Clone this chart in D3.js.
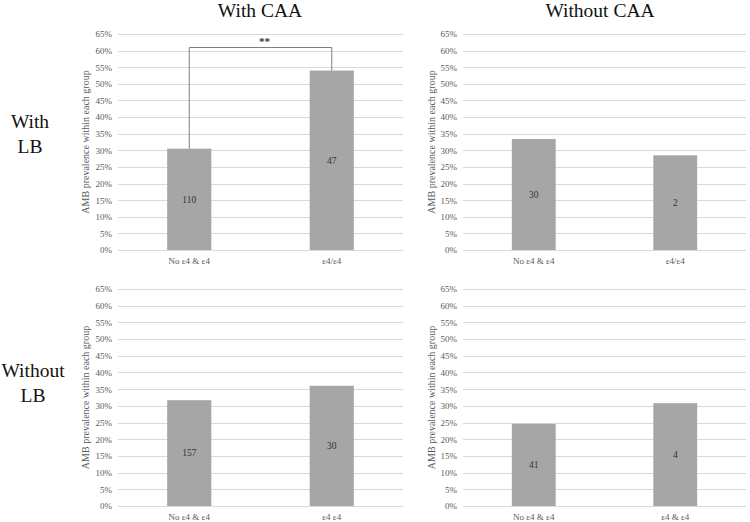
<!DOCTYPE html>
<html>
<head>
<meta charset="utf-8">
<script src="https://cdn.jsdelivr.net/npm/d3@7"></script>
<style>
  html, body { margin: 0; padding: 0; background: #fff; }
  svg { display: block; }
</style>
</head>
<body>
<svg id="chart" width="750" height="522" font-family="Liberation Serif"></svg>
<script>
// ---- data ----
const columnTitles = ["With CAA", "Without CAA"];
const rowTitles = [["With", "LB"], ["Without", "LB"]];
const yTickValues = [0, 5, 10, 15, 20, 25, 30, 35, 40, 45, 50, 55, 60, 65];
const yAxisTitle = "AMB prevalence within each group";

const catsWithCAAWithLB = ["No ε4 & ε4", "ε4/ε4"];
const valsWithCAAWithLB = [30.5, 54.0];
const nWithCAAWithLB = ["110", "47"];

const catsWithoutCAAWithLB = ["No ε4 & ε4", "ε4/ε4"];
const valsWithoutCAAWithLB = [33.4, 28.5];
const nWithoutCAAWithLB = ["30", "2"];

const catsWithCAAWithoutLB = ["No ε4 & ε4", "ε4 ε4"];
const valsWithCAAWithoutLB = [31.7, 36.0];
const nWithCAAWithoutLB = ["157", "30"];

const catsWithoutCAAWithoutLB = ["No ε4 & ε4", "ε4 & ε4"];
const valsWithoutCAAWithoutLB = [24.6, 30.8];
const nWithoutCAAWithoutLB = ["41", "4"];

const significance = { panel: 0, label: "**", level: 61 };

// ---- layout ----
const FONT = "Liberation Serif";
const panels = [
  { cats: catsWithCAAWithLB, vals: valsWithCAAWithLB, n: nWithCAAWithLB, x0: 118, x1: 403, y0: 34, y1: 250, titleX: 85 },
  { cats: catsWithoutCAAWithLB, vals: valsWithoutCAAWithLB, n: nWithoutCAAWithLB, x0: 463, x1: 746, y0: 34, y1: 250, titleX: 431 },
  { cats: catsWithCAAWithoutLB, vals: valsWithCAAWithoutLB, n: nWithCAAWithoutLB, x0: 118, x1: 403, y0: 289, y1: 506, titleX: 85 },
  { cats: catsWithoutCAAWithoutLB, vals: valsWithoutCAAWithoutLB, n: nWithoutCAAWithoutLB, x0: 463, x1: 746, y0: 289, y1: 506, titleX: 431 }
];

const svg = d3.select("#chart");
const gridColor = "#d9d9d9";
const barColor = "#a6a6a6";
const tickColor = "#595959";

// column titles
const colX = [260, 600];
svg.selectAll("text.coltitle").data(columnTitles).join("text")
  .attr("class", "coltitle")
  .attr("x", (d, i) => colX[i]).attr("y", 17)
  .attr("text-anchor", "middle")
  .attr("font-family", FONT)
  .attr("font-size", 19.5).attr("fill", "#111")
  .text(d => d);

// row titles
const rowY = [128, 377];
const rowX = [30, 33];
rowTitles.forEach((lines, i) => {
  const t = svg.append("text")
    .attr("x", rowX[i]).attr("y", rowY[i])
    .attr("text-anchor", "middle").attr("font-family", FONT)
    .attr("font-size", 19.5).attr("fill", "#111");
  lines.forEach((l, j) => t.append("tspan").attr("x", rowX[i]).attr("dy", j === 0 ? 0 : 25).text(l));
});

panels.forEach((p, pi) => {
  const g = svg.append("g");
  const x = d3.scaleBand().domain(p.cats).range([p.x0, p.x1]).paddingInner(0.69).paddingOuter(0.345);
  const y = d3.scaleLinear().domain([0, 65]).range([p.y1, p.y0]);

  // gridlines
  g.selectAll("line.grid").data(yTickValues).join("line")
    .attr("x1", p.x0).attr("x2", p.x1)
    .attr("y1", d => Math.round(y(d)) + 0.5).attr("y2", d => Math.round(y(d)) + 0.5)
    .attr("stroke", gridColor).attr("stroke-width", 1);

  // y axis (labels only)
  const yAxis = d3.axisLeft(y).tickValues(yTickValues).tickFormat(d => d + "%").tickSize(0).tickPadding(6);
  const ya = g.append("g").attr("transform", `translate(${p.x0},0)`).call(yAxis)
    .attr("font-family", FONT);
  ya.select(".domain").remove();
  ya.selectAll("text").attr("font-family", FONT).attr("font-size", 9).attr("fill", tickColor);

  // x axis (labels only)
  const xAxis = d3.axisBottom(x).tickSize(0).tickPadding(8);
  const xa = g.append("g").attr("transform", `translate(0,${p.y1})`).call(xAxis)
    .attr("font-family", FONT);
  xa.select(".domain").remove();
  xa.selectAll("text").attr("font-family", FONT).attr("font-size", 9).attr("fill", tickColor);

  // bars
  g.selectAll("rect.bar").data(p.vals).join("rect")
    .attr("x", (d, i) => x(p.cats[i]))
    .attr("width", x.bandwidth())
    .attr("y", d => y(d))
    .attr("height", d => y(0) - y(d))
    .attr("fill", barColor);

  // n labels
  g.selectAll("text.n").data(p.vals).join("text")
    .attr("x", (d, i) => x(p.cats[i]) + x.bandwidth() / 2)
    .attr("y", d => y(d / 2))
    .attr("dy", "0.35em")
    .attr("text-anchor", "middle")
    .attr("font-family", FONT)
    .attr("font-size", 9.5).attr("fill", "#333")
    .text((d, i) => p.n[i]);

  // y title
  g.append("text")
    .attr("transform", `translate(${p.titleX},${(p.y0 + p.y1) / 2}) rotate(-90)`)
    .attr("text-anchor", "middle").attr("dy", "0.35em")
    .attr("font-family", FONT)
    .attr("font-size", 10).attr("fill", tickColor)
    .text(yAxisTitle);

  // significance bracket
  if (pi === significance.panel) {
    const cx0 = x(p.cats[0]) + x.bandwidth() / 2;
    const cx1 = x(p.cats[1]) + x.bandwidth() / 2;
    const yl = Math.round(y(significance.level)) + 0.5;
    g.append("path")
      .attr("d", `M${cx0},${y(p.vals[0])}V${yl}H${cx1}V${y(p.vals[1])}`)
      .attr("fill", "none").attr("stroke", "#7f7f7f").attr("stroke-width", 1);
    g.append("text")
      .attr("x", (cx0 + cx1) / 2 + 4).attr("y", yl - 3)
      .attr("text-anchor", "middle").attr("font-family", FONT)
      .attr("font-size", 11).attr("font-weight", "bold").attr("fill", "#333")
      .text(significance.label);
  }
});
</script>
</body>
</html>
